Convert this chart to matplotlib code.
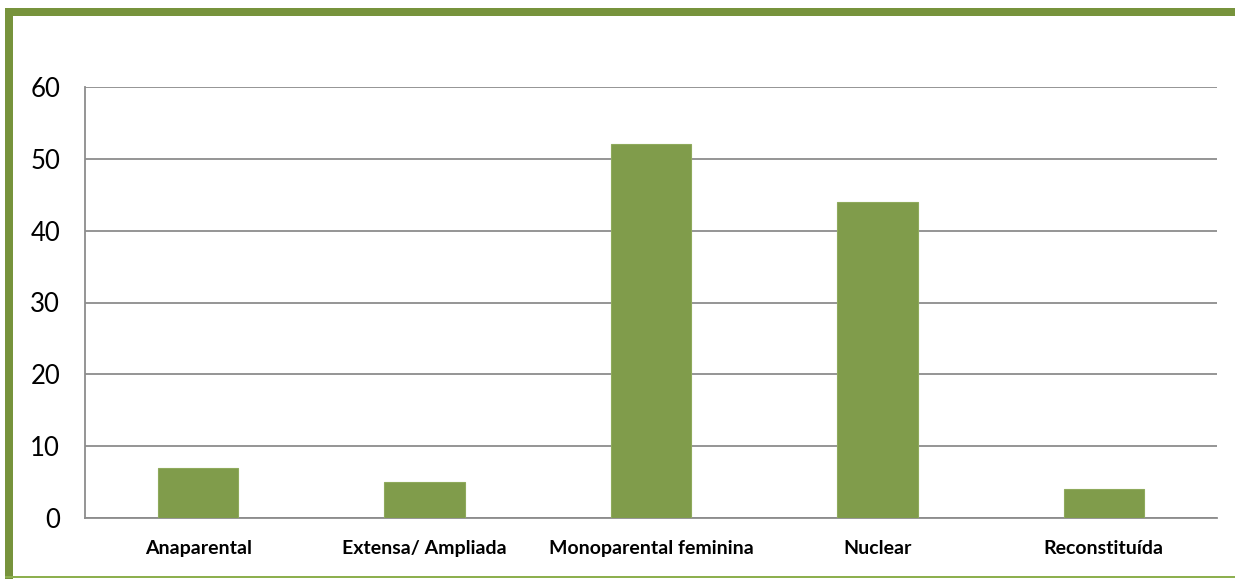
import matplotlib.pyplot as plt
from matplotlib.patches import Rectangle

categorias = ['Anaparental', 'Extensa/ Ampliada', 'Monoparental feminina', 'Nuclear', 'Reconstituída']
valores = [7, 5, 52, 44, 4]
yticks = [0, 10, 20, 30, 40, 50, 60]

W, H = 1235, 579
fig = plt.figure(figsize=(W / 100, H / 100), dpi=100)
fig.patch.set_facecolor('white')

# moldura verde (esquerda, topo, base)
borda = '#77933C'
fig.patches.append(Rectangle((5 / W, 0), 8 / W, 1 - 8 / H, transform=fig.transFigure,
                             facecolor=borda, edgecolor='none'))
fig.patches.append(Rectangle((5 / W, 1 - 16 / H), 1, 8 / H, transform=fig.transFigure,
                             facecolor=borda, edgecolor='none'))
fig.patches.append(Rectangle((5 / W, 1.5 / H), 1, 2 / H, transform=fig.transFigure,
                             facecolor='#8DB04F', edgecolor='none'))

ax = fig.add_axes([85 / W, 1 - 518 / H, (1217 - 85) / W, (518 - 87) / H])
x = range(len(categorias))
ax.bar(x, valores, width=0.355, color='#809C4B', edgecolor='#8FAA5C', linewidth=0.8, zorder=3)

ax.set_xlim(-0.5, len(categorias) - 0.5)
ax.set_ylim(0, 60)
ax.set_yticks(yticks)
ax.set_yticklabels([str(v) for v in yticks], fontsize=18.5, family='Lato')
ax.set_xticks(list(x))
ax.set_xticklabels(categorias, fontsize=14, fontweight='bold', family='Lato')
ax.tick_params(axis='y', length=0, pad=18)
ax.tick_params(axis='x', length=0, pad=15.5)

ax.grid(axis='y', color='#8C8C8C', linewidth=1.3, zorder=0)
for s in ['top', 'right']:
    ax.spines[s].set_visible(False)
for s in ['left', 'bottom']:
    ax.spines[s].set_color('#8C8C8C')
    ax.spines[s].set_linewidth(1.3)

fig.savefig('out.png', dpi=100, facecolor='white')
